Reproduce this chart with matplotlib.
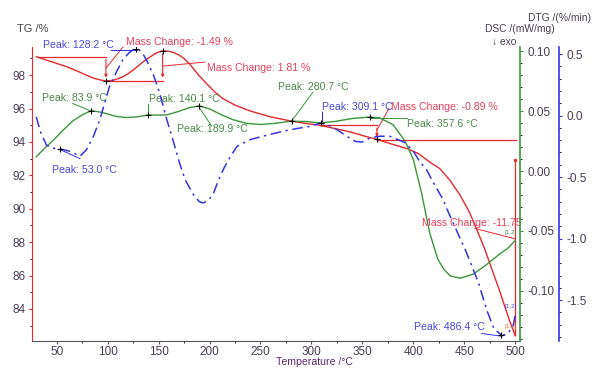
import numpy as np
import matplotlib

matplotlib.use("Agg")
import matplotlib.pyplot as plt
from matplotlib.ticker import MultipleLocator, FormatStrFormatter

plt.rcParams["font.family"] = ["Liberation Sans", "DejaVu Sans"]

# TG curve (temperature degC, mass %)
tg_temp = [30, 45, 60, 70, 79, 86, 92, 98, 105, 110, 115, 120, 125, 130, 135, 142,
           148, 154, 160, 165, 170, 175, 180, 184, 190, 197, 205, 213, 225, 240,
           260, 280, 295, 308, 323, 338, 352, 367, 380, 394, 405, 416, 426, 436,
           446, 455, 462, 470, 477, 484, 490, 495, 500]
tg_mass = [99.1, 98.8, 98.5, 98.25, 98.0, 97.82, 97.72, 97.65, 97.68, 97.78, 97.9,
           98.08, 98.3, 98.55, 98.8, 99.1, 99.33, 99.45, 99.43, 99.35, 99.2, 99.0,
           98.7, 98.4, 97.95, 97.5, 97.0, 96.6, 96.2, 95.85, 95.5, 95.25, 95.1,
           95.0, 94.8, 94.6, 94.35, 94.1, 93.85, 93.6, 93.3, 92.8, 92.4, 91.7,
           90.8, 89.8, 88.8, 87.6, 86.4, 85.2, 84.1, 83.2, 82.4]

# DSC curve (mW/mg)
dsc_temp = [30, 38, 47, 56, 66, 75, 84, 95, 108, 118, 130, 140, 150, 158, 170, 180,
            190, 200, 212, 223, 236, 250, 265, 280, 295, 308, 323, 340, 357, 367,
            380, 392, 400, 408, 416, 424, 430, 436, 446, 459, 472, 485, 492, 500]
dsc_val = [0.012, 0.019, 0.026, 0.034, 0.042, 0.047, 0.0506, 0.049, 0.0458,
           0.0448, 0.0455, 0.047, 0.0468, 0.047, 0.050, 0.053, 0.0545, 0.052,
           0.047, 0.043, 0.040, 0.039, 0.040, 0.0417, 0.0415, 0.0403, 0.0415,
           0.044, 0.0452, 0.0445, 0.0389, 0.025, 0.0097, -0.018, -0.0513, -0.0736,
           -0.082, -0.0875, -0.0895, -0.086, -0.078, -0.069, -0.065, -0.058]

# DTG curve (%/min)
dtg_temp = [30, 34, 40, 46, 53, 63, 73, 79, 86, 92.5, 97, 102, 109, 115, 121, 125,
            128.5, 131, 134, 138, 145, 151, 158, 164, 170, 176, 184, 190, 194, 199,
            204, 209, 214, 220, 227, 240, 256, 272, 286, 299, 309, 317, 325, 335,
            343, 350, 358, 367, 377, 392, 400, 406, 413, 420, 429, 433, 446, 451,
            464, 472, 479, 487, 493, 498, 500]
dtg_val = [-0.01, -0.13, -0.24, -0.265, -0.27, -0.29, -0.33, -0.28, -0.17, -0.03,
           0.10, 0.24, 0.36, 0.455, 0.51, 0.535, 0.54, 0.535, 0.51, 0.455, 0.33,
           0.185, -0.03, -0.195, -0.37, -0.52, -0.64, -0.70, -0.71, -0.69, -0.63,
           -0.52, -0.43, -0.34, -0.25, -0.195, -0.16, -0.128, -0.105, -0.087,
           -0.06, -0.08, -0.114, -0.17, -0.21, -0.215, -0.18, -0.168, -0.168,
           -0.22, -0.29, -0.37, -0.44, -0.55, -0.68, -0.76, -1.0, -1.09, -1.36,
           -1.58, -1.73, -1.79, -1.77, -1.71, -1.62]

dsc_peaks = [83.9, 140.1, 189.9, 280.7, 357.6]
dtg_peaks = [53.0, 128.2, 309.1, 486.4]
tg_marks = [98.4, 154, 364.3]

RED = "#e8282d"
RED_T = "#e6405e"
GREEN = "#3c963c"
GREEN_T = "#4a8a4a"
BLUE = "#3434e6"
BLUE_T = "#4848dc"
TICKC = "#4b3d55"

fig = plt.figure(figsize=(6, 3.73), dpi=100)
ax = fig.add_axes([0.0528, 0.0866, 0.8139, 0.7882])
ax2 = ax.twinx()
ax3 = ax.twinx()

# curves
ax.plot(tg_temp, tg_mass, color=RED, lw=1.0, zorder=3)
ax2.plot(dsc_temp, dsc_val, color=GREEN, lw=1.0)
ax3.plot(dtg_temp, dtg_val, color=BLUE, lw=1.1, linestyle=(0, (7, 3, 1.5, 3)))

# peak markers
ax2.plot(dsc_peaks, np.interp(dsc_peaks, dsc_temp, dsc_val), "+", color="k", ms=5, mew=0.8)
ax3.plot(dtg_peaks, np.interp(dtg_peaks, dtg_temp, dtg_val), "+", color="k", ms=5, mew=0.8)
ax.plot(tg_marks, np.interp(tg_marks, tg_temp, tg_mass), "+", color="k", ms=5, mew=0.8, zorder=4)

# axis limits / ticks
ax.set_xlim(25.5, 504.7)
ax.set_ylim(82.1, 99.7)
ax2.set_ylim(-0.1417, 0.104)
ax3.set_ylim(-1.83, 0.56)

ax.xaxis.set_major_locator(MultipleLocator(50))
ax.xaxis.set_minor_locator(MultipleLocator(25))
ax.yaxis.set_major_locator(MultipleLocator(2))
ax.yaxis.set_minor_locator(MultipleLocator(1))
ax2.yaxis.set_major_locator(MultipleLocator(0.05))
ax2.yaxis.set_minor_locator(MultipleLocator(0.01))
ax2.yaxis.set_major_formatter(FormatStrFormatter("%.2f"))
ax3.yaxis.set_major_locator(MultipleLocator(0.5))
ax3.yaxis.set_minor_locator(MultipleLocator(0.1))
ax3.yaxis.set_major_formatter(FormatStrFormatter("%.1f"))

for a in (ax, ax2, ax3):
    a.spines["top"].set_visible(False)
ax.spines["right"].set_visible(False)
ax.spines["left"].set_color(RED)
ax.spines["bottom"].set_color("#555555")
ax2.spines["left"].set_visible(False)
ax2.spines["bottom"].set_visible(False)
ax2.spines["right"].set_color(GREEN)
ax2.spines["right"].set_linewidth(1.2)
ax3.spines["left"].set_visible(False)
ax3.spines["bottom"].set_visible(False)
ax3.spines["right"].set_position(("outward", 28))
ax3.spines["right"].set_color(BLUE)
ax3.spines["right"].set_linewidth(1.2)

ax.tick_params(axis="x", colors="#555555", labelcolor=TICKC, labelsize=8.5, length=2.5, pad=1.5)
ax.tick_params(axis="x", which="minor", length=1.5)
ax.tick_params(axis="y", colors=RED, labelcolor=TICKC, labelsize=8.5, length=2.5, pad=2)
ax.tick_params(axis="y", which="minor", length=1.5)
ax2.tick_params(axis="y", colors=GREEN, labelcolor=TICKC, labelsize=8.5, length=2.5, pad=3)
ax2.tick_params(axis="y", which="minor", length=1.5)
ax3.tick_params(axis="y", colors=BLUE, labelcolor=TICKC, labelsize=8.5, length=2.5, pad=3)
ax3.tick_params(axis="y", which="minor", length=1.5)

# axis titles
fig.text(16.7 / 600, 1 - 29.3 / 373, "TG /%", color="#444444", fontsize=8, va="center")
fig.text(527.7 / 600, 1 - 18.3 / 373, "DTG /(%/min)", color=TICKC, fontsize=7.4, va="center")
fig.text(485 / 600, 1 - 29.3 / 373, "DSC /(mW/mg)", color=TICKC, fontsize=7.4, va="center")
fig.text(492 / 600, 1 - 41.7 / 373, "\u2193 exo", color=TICKC, fontsize=7.4, va="center")
fig.text(276 / 600, 1 - 362 / 373, "Temperature /\u00b0C", color="#5a2a7a", fontsize=7.6, va="center")

fs = 7.6
kw = dict(fontsize=fs, va="center", clip_on=False)

# mass change annotations (TG coordinates)
ax.plot([30.4, 98.4], [99.1, 99.1], color=RED, lw=0.9)
ax.annotate("", xy=(98.4, 97.68), xytext=(98.4, 99.1),
            arrowprops=dict(arrowstyle="-|>", color=RED, lw=0.8, mutation_scale=4))
ax.plot([98.4, 115.1], [98.42, 99.68], color=RED, lw=0.7, clip_on=False)
ax.text(118, 99.96, "Mass Change: -1.49 %", color=RED_T, **kw)

ax.plot([98.4, 154], [97.64, 97.64], color=RED, lw=0.9)
ax.annotate("", xy=(154, 97.68), xytext=(154, 99.45),
            arrowprops=dict(arrowstyle="-|>", color=RED, lw=0.8, mutation_scale=4))
ax.plot([154.3, 195.5], [98.54, 98.78], color=RED, lw=0.7)
ax.text(197.2, 98.4, "Mass Change: 1.81 %", color=RED_T, **kw)

ax.plot([308.4, 364.3], [95.0, 95.0], color=RED, lw=0.9)
ax.annotate("", xy=(364.3, 94.12), xytext=(364.3, 95.0),
            arrowprops=dict(arrowstyle="-|>", color=RED, lw=0.8, mutation_scale=4))
ax.plot([364.3, 500.8], [94.1, 94.1], color=RED, lw=0.9)
ax.plot([364.3, 376], [94.7, 96.0], color=RED, lw=0.7)
ax.text(377.8, 96.07, "Mass Change: -0.89 %", color=RED_T, **kw)

ax.plot([499.8, 499.8], [92.9, 82.45], color=RED, lw=0.9)
ax.plot([499.8], [92.9], marker="o", ms=1.5, color=RED)
ax.plot([460.5, 499.8], [88.82, 88.2], color=RED, lw=0.7)
ax.text(408.2, 89.16, "Mass Change: -11.75", color=RED_T, **kw)

# peak annotations (TG coordinates)
ax.plot([103.4, 128.5], [99.5, 99.5], color=BLUE, lw=0.8)
ax.text(36.3, 99.8, "Peak: 128.2 \u00b0C", color=BLUE_T, **kw)

ax.plot([65.7, 84.3], [96.3, 95.84], color=GREEN, lw=0.7)
ax.text(35.3, 96.6, "Peak: 83.9 \u00b0C", color=GREEN_T, **kw)

ax.plot([53.0, 72.9], [93.55, 93.0], color=BLUE, lw=0.7)
ax.text(45.1, 92.3, "Peak: 53.0 \u00b0C", color=BLUE_T, **kw)

ax.plot([140.1, 140.1], [96.26, 95.54], color=GREEN, lw=0.8)
ax.text(140.9, 96.55, "Peak: 140.1 \u00b0C", color=GREEN_T, **kw)

ax.plot([190.5, 202.1], [96.0, 94.95], color=GREEN, lw=0.7)
ax.text(167.8, 94.8, "Peak: 189.9 \u00b0C", color=GREEN_T, **kw)

ax.plot([280.6, 301.5], [95.25, 96.98], color=GREEN, lw=0.7)
ax.text(267.2, 97.26, "Peak: 280.7 \u00b0C", color=GREEN_T, **kw)

ax.plot([310.0, 310.0], [95.78, 95.13], color=BLUE, lw=0.8)
ax.text(310.1, 96.07, "Peak: 309.1 \u00b0C", color=BLUE_T, **kw)

ax.plot([357.5, 393.5], [95.44, 95.44], color=GREEN, lw=0.7)
ax.text(393.5, 95.1, "Peak: 357.6 \u00b0C", color=GREEN_T, **kw)

ax.plot([467.1, 486.7], [82.53, 82.37], color=BLUE, lw=0.7)
ax.text(400.6, 82.9, "Peak: 486.4 \u00b0C", color=BLUE_T, **kw)

# segment labels
ax.text(489.8, 88.6, "[1.2]", color=GREEN_T, fontsize=4.5, va="center")
ax.text(489.8, 84.13, "[1.2]", color=BLUE_T, fontsize=4.5, va="center")
ax.text(489.8, 82.97, "[1.2]", color="#e07a30", fontsize=4.5, va="center")

fig.savefig("out.png", dpi=100)
